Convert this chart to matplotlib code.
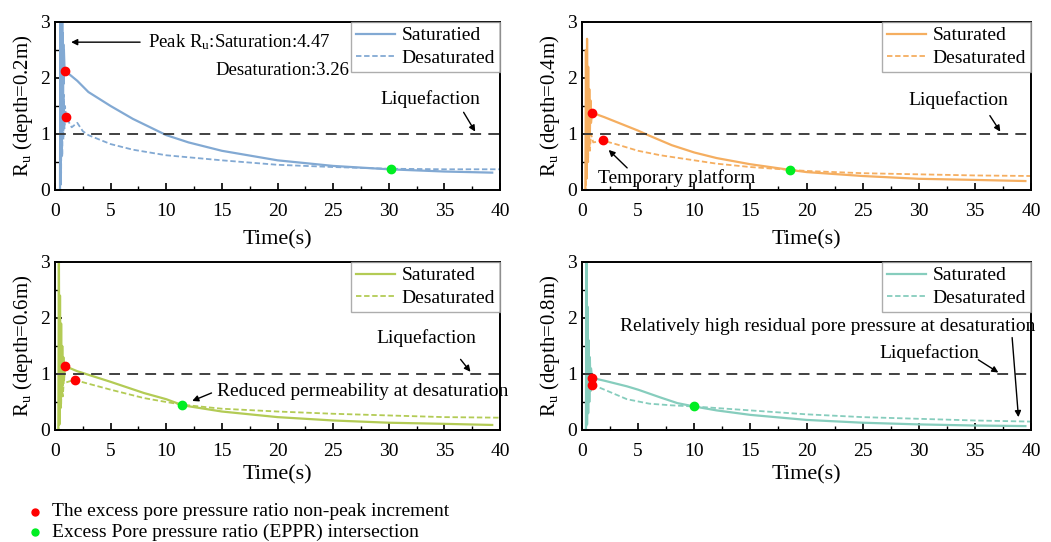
import matplotlib
matplotlib.use('Agg')
import matplotlib.pyplot as plt
from matplotlib.ticker import MultipleLocator
from matplotlib.lines import Line2D

plt.rcParams['font.family'] = ['Liberation Serif', 'DejaVu Serif']
plt.rcParams['mathtext.fontset'] = 'custom'
plt.rcParams['mathtext.rm'] = 'Liberation Serif'
plt.rcParams['mathtext.it'] = 'Liberation Serif'

# ---- data ----
# depth 0.2 m
t_sat_02 = [0, 0.45, 0.5, 0.52, 0.55, 0.58, 0.6, 0.62, 0.65, 0.68, 0.7, 0.72, 0.75, 0.78, 0.8, 0.85, 0.9,
            2, 3, 5, 7, 10, 12, 15, 20, 25, 30, 35, 39.3]
r_sat_02 = [0, 0, 4.47, 0.1, 3.6, 0.6, 3.3, 1.0, 3.0, 1.4, 2.8, 1.6, 2.6, 1.9, 2.5, 2.2, 2.13,
            1.95, 1.75, 1.5, 1.27, 0.98, 0.85, 0.7, 0.53, 0.43, 0.37, 0.33, 0.31]
t_des_02 = [0, 0.45, 0.5, 0.55, 0.6, 0.65, 0.7, 0.75, 0.8, 0.85, 0.9, 1.0,
            1.5, 2.0, 2.5, 3, 5, 7, 10, 15, 20, 25, 30, 35, 40]
r_des_02 = [0, 0, 3.26, 0.3, 2.5, 0.6, 2.0, 0.9, 1.7, 1.1, 1.5, 1.3,
            1.12, 1.2, 1.05, 0.98, 0.82, 0.72, 0.62, 0.53, 0.45, 0.41, 0.38, 0.37, 0.37]
red_02 = ([0.9, 1.0], [2.13, 1.3])
green_02 = ([30.2], [0.37])

# depth 0.4 m
t_sat_04 = [0, 0.3, 0.35, 0.4, 0.45, 0.5, 0.55, 0.6, 0.65, 0.7, 0.75, 0.8, 0.9,
            2, 3, 5, 6, 8, 10, 12, 15, 18.5, 20, 25, 30, 35, 39.5]
r_sat_04 = [0, 0, 2.5, 0.2, 2.7, 0.5, 2.2, 0.8, 1.8, 1.0, 1.6, 1.2, 1.38,
            1.3, 1.22, 1.06, 0.97, 0.8, 0.67, 0.57, 0.46, 0.36, 0.32, 0.25, 0.2, 0.18, 0.16]
t_des_04 = [0, 0.35, 0.4, 0.45, 0.5, 0.55, 0.6, 0.7, 0.8, 1.0, 1.9,
            3, 5, 7, 10, 12, 15, 18.5, 20, 25, 30, 35, 40]
r_des_04 = [0, 0, 2.0, 0.3, 1.6, 0.5, 1.3, 0.7, 1.0, 0.85, 0.88,
            0.82, 0.7, 0.62, 0.53, 0.47, 0.41, 0.36, 0.34, 0.3, 0.28, 0.26, 0.25]
red_04 = ([0.9, 1.9], [1.38, 0.89])
green_04 = ([18.5], [0.35])

# depth 0.6 m
t_sat_06 = [0, 0.3, 0.35, 0.4, 0.45, 0.5, 0.55, 0.6, 0.65, 0.7, 0.75, 0.8, 0.9,
            2, 5, 8, 10, 11.5, 15, 20, 25, 30, 35, 39.3]
r_sat_06 = [0, 0, 3.2, 0.1, 2.4, 0.4, 1.9, 0.6, 1.5, 0.8, 1.3, 0.9, 1.14,
            1.05, 0.86, 0.66, 0.55, 0.44, 0.33, 0.23, 0.17, 0.13, 0.11, 0.09]
t_des_06 = [0, 0.35, 0.4, 0.45, 0.5, 0.55, 0.6, 0.7, 0.8, 1.0, 1.8,
            2, 5, 8, 10, 11.5, 15, 20, 25, 30, 35, 40]
r_des_06 = [0, 0, 1.6, 0.2, 1.2, 0.4, 1.0, 0.6, 0.9, 0.85, 0.9,
            0.88, 0.72, 0.57, 0.5, 0.45, 0.38, 0.33, 0.29, 0.26, 0.23, 0.22]
red_06 = ([0.9, 1.8], [1.14, 0.9])
green_06 = ([11.4], [0.44])

# depth 0.8 m
t_sat_08 = [0, 0.35, 0.4, 0.45, 0.5, 0.55, 0.6, 0.65, 0.7, 0.75, 0.8, 0.9,
            2, 4, 5, 7, 8.5, 10, 12, 15, 20, 25, 30, 35, 39.5]
r_sat_08 = [0, 0, 3.2, 0.1, 2.2, 0.3, 1.6, 0.5, 1.3, 0.7, 1.1, 0.93,
            0.88, 0.78, 0.72, 0.58, 0.48, 0.42, 0.35, 0.27, 0.18, 0.13, 0.1, 0.08, 0.07]
t_des_08 = [0, 0.4, 0.45, 0.5, 0.55, 0.6, 0.7, 0.8, 0.9,
            2, 4, 6, 8, 10, 15, 20, 25, 30, 35, 40]
r_des_08 = [0, 0, 1.8, 0.3, 1.3, 0.5, 1.0, 0.7, 0.81,
            0.72, 0.55, 0.47, 0.44, 0.42, 0.35, 0.28, 0.23, 0.2, 0.17, 0.15]
red_08 = ([0.9, 0.9], [0.93, 0.81])
green_08 = ([10.0], [0.42])

panels = [
    ('0.2m', '#82a9d3', 'Saturatied', t_sat_02, r_sat_02, t_des_02, r_des_02, red_02, green_02),
    ('0.4m', '#f5ae60', 'Saturated', t_sat_04, r_sat_04, t_des_04, r_des_04, red_04, green_04),
    ('0.6m', '#b3cb55', 'Saturated', t_sat_06, r_sat_06, t_des_06, r_des_06, red_06, green_06),
    ('0.8m', '#86cdbd', 'Saturated', t_sat_08, r_sat_08, t_des_08, r_des_08, red_08, green_08),
]

fig = plt.figure(figsize=(10.51, 5.42), dpi=100)
W, H = 1051, 542
boxes = [(55, 22, 500, 190), (582, 22, 1031, 190), (55, 262, 500, 430), (582, 262, 1031, 430)]
xlabel_pads = [8, 8, 4, 4]

axes = []
for (x0, y0, x1, y1), lp, (depth, col, lab, ts, rs, td, rd, red, green) in zip(boxes, xlabel_pads, panels):
    ax = fig.add_axes([x0 / W, 1 - y1 / H, (x1 - x0) / W, (y1 - y0) / H])
    ax.plot(ts, rs, color=col, lw=1.6, label=lab)
    ax.plot(td, rd, color=col, lw=1.3, ls=(0, (3, 1.5)), label='Desaturated')
    ax.axhline(1, color='#333333', lw=1.3, ls=(0, (6, 4)))
    ax.plot(red[0], red[1], 'o', color='#ff0000', ms=6, zorder=5)
    ax.plot(green[0], green[1], 'o', color='#00ee22', ms=6, zorder=5)
    ax.set_xlim(0, 40)
    ax.set_ylim(0, 3)
    ax.xaxis.set_major_locator(MultipleLocator(5))
    ax.xaxis.set_minor_locator(MultipleLocator(2.5))
    ax.yaxis.set_major_locator(MultipleLocator(1))
    ax.yaxis.set_minor_locator(MultipleLocator(0.5))
    ax.tick_params(which='both', direction='in', labelsize=14)
    ax.tick_params(axis='x', which='major', pad=9)
    ax.tick_params(which='major', length=5, width=1.2)
    ax.tick_params(which='minor', length=3, width=1.0)
    for s in ax.spines.values():
        s.set_linewidth(1.4)
    ax.set_xlabel('Time(s)', fontsize=16, labelpad=lp)
    ax.set_ylabel('R$_\\mathrm{u}$ (depth=%s)' % depth, fontsize=15, labelpad=4)
    leg = ax.legend(loc='upper right', fontsize=14, frameon=True, fancybox=False,
                    borderpad=0.25, handlelength=2.0, handletextpad=0.35,
                    labelspacing=0.25, borderaxespad=0)
    leg.get_frame().set_edgecolor('#999999')
    leg.get_frame().set_linewidth(1.0)
    axes.append(ax)

arr = dict(arrowstyle='-|>', color='black', lw=1.0, mutation_scale=9)
fs = 14
fa = 13.5

ax1, ax2, ax3, ax4 = axes
ax1.annotate('', xy=(1.2, 2.64), xytext=(7.9, 2.64), arrowprops=arr)
ax1.text(8.4, 2.64, 'Peak R$_\\mathrm{u}$:Saturation:4.47', fontsize=fa, va='center')
ax1.text(14.4, 2.14, 'Desaturation:3.26', fontsize=fa, va='center')
ax1.text(33.7, 1.62, 'Liquefaction', fontsize=fs, va='center', ha='center')
ax1.annotate('', xy=(37.9, 1.0), xytext=(36.6, 1.43), arrowprops=arr)

ax2.text(33.5, 1.6, 'Liquefaction', fontsize=fs, va='center', ha='center')
ax2.annotate('', xy=(37.4, 1.0), xytext=(36.2, 1.37), arrowprops=arr)
ax2.text(1.4, 0.21, 'Temporary platform', fontsize=fs, va='center')
ax2.annotate('', xy=(2.2, 0.75), xytext=(4.2, 0.36), arrowprops=arr)

ax3.text(33.4, 1.64, 'Liquefaction', fontsize=fs, va='center', ha='center')
ax3.annotate('', xy=(37.5, 1.0), xytext=(36.3, 1.3), arrowprops=arr)
ax3.text(14.6, 0.68, 'Reduced permeability at desaturation', fontsize=fs, va='center')
ax3.annotate('', xy=(12.1, 0.5), xytext=(14.3, 0.68), arrowprops=arr)

ax4.text(3.4, 1.84, 'Relatively high residual pore pressure at desaturation', fontsize=fs, va='center')
ax4.text(30.9, 1.37, 'Liquefaction', fontsize=fs, va='center', ha='center')
ax4.annotate('', xy=(37.3, 1.0), xytext=(35.1, 1.28), arrowprops=arr)
ax4.annotate('', xy=(38.9, 0.18), xytext=(38.3, 1.7), arrowprops=arr)

# marker key under the panels
fig.add_artist(Line2D([35 / W], [1 - 512 / H], marker='o', color='#ff0000', ms=5, ls=''))
fig.text(52 / W, 1 - 512 / H, 'The excess pore pressure ratio non-peak increment', fontsize=fs, va='center')
fig.add_artist(Line2D([35 / W], [1 - 532 / H], marker='o', color='#00ee22', ms=5, ls=''))
fig.text(52 / W, 1 - 532 / H, 'Excess Pore pressure ratio (EPPR) intersection', fontsize=fs, va='center')

fig.savefig('out.png', dpi=100)
